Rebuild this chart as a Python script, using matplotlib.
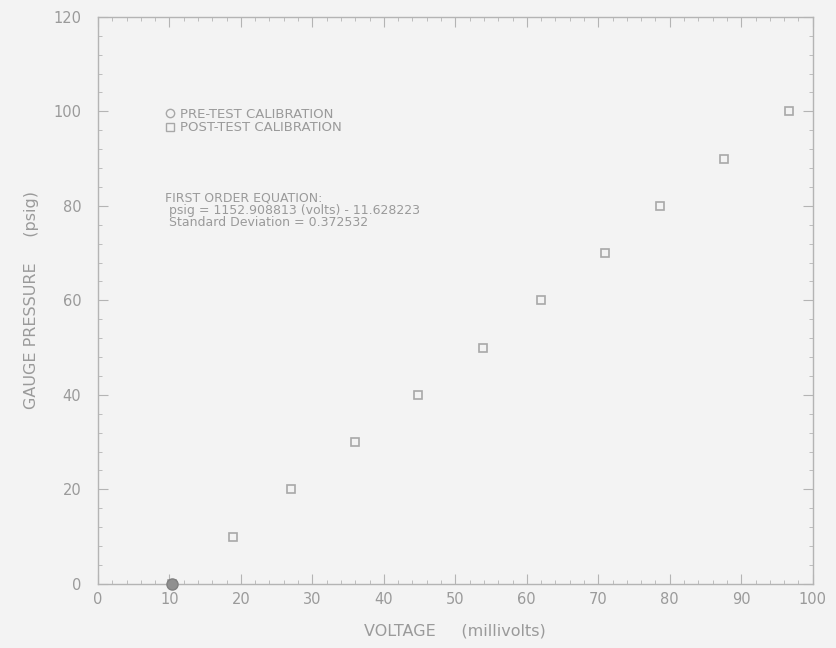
#!/usr/bin/env python3
# coding: utf-8

import matplotlib
matplotlib.use('Agg')
import matplotlib.pyplot as plt
from matplotlib.ticker import MultipleLocator
from matplotlib.lines import Line2D

# calibration points
post_mv = [10.3, 18.9, 27.0, 35.9, 44.8, 53.9, 62.0, 70.9, 78.7, 87.6, 96.7]
post_psig = [0, 10, 20, 30, 40, 50, 60, 70, 80, 90, 100]
pre_mv = [10.3]
pre_psig = [0]

x_ticks = [0, 10, 20, 30, 40, 50, 60, 70, 80, 90, 100]
y_ticks = [0, 20, 40, 60, 80, 100, 120]

eq_lines = ["FIRST ORDER EQUATION:",
            " psig = 1152.908813 (volts) - 11.628223",
            " Standard Deviation = 0.372532"]

BG = '#f3f3f3'
TXT = '#9a9a9a'
LN = '#b4b4b4'

fig = plt.figure(figsize=(8.37, 6.48), dpi=100, facecolor=BG)
ax = fig.add_axes([0.117, 0.099, 0.854, 0.875], facecolor=BG)

ax.plot(post_mv, post_psig, linestyle='none', marker='s', markersize=6,
        markerfacecolor='none', markeredgecolor='#a8a8a8', markeredgewidth=1.2)
ax.plot(pre_mv, pre_psig, linestyle='none', marker='o', markersize=8,
        markerfacecolor='#909090', markeredgecolor='#808080', clip_on=False, zorder=5)

ax.set_xlim(0, 100)
ax.set_ylim(0, 120)
ax.set_xticks(x_ticks)
ax.set_yticks(y_ticks)
ax.xaxis.set_minor_locator(MultipleLocator(2))
ax.yaxis.set_minor_locator(MultipleLocator(4))
ax.tick_params(which='both', direction='in', top=True, right=True, colors=LN,
               labelcolor=TXT, labelsize=10.5)
ax.tick_params(which='major', length=7, width=0.8)
ax.tick_params(which='minor', length=3, width=0.6)
ax.tick_params(axis='y', pad=12)
ax.tick_params(axis='x', pad=6)
for s in ax.spines.values():
    s.set_color(LN)
    s.set_linewidth(1.0)

ax.set_xlabel('VOLTAGE     (millivolts)', color=TXT, fontsize=11.5, labelpad=12)
ax.set_ylabel('GAUGE PRESSURE     (psig)', color=TXT, fontsize=11.5, labelpad=10)

handles = [Line2D([], [], linestyle='none', marker='o', markersize=6,
                  markerfacecolor='none', markeredgecolor='#a8a8a8'),
           Line2D([], [], linestyle='none', marker='s', markersize=6,
                  markerfacecolor='none', markeredgecolor='#a8a8a8')]
leg = ax.legend(handles, ['PRE-TEST CALIBRATION', 'POST-TEST CALIBRATION'],
                loc='upper left', bbox_to_anchor=(0.095, 0.84), frameon=False,
                fontsize=9.5, handlelength=0.6, handletextpad=0.5,
                labelspacing=0.05, borderpad=0, borderaxespad=0)
for t in leg.get_texts():
    t.set_color(TXT)

ax.text(0.094, 0.692, '\n'.join(eq_lines), transform=ax.transAxes,
        fontsize=9, color=TXT, va='top', ha='left', linespacing=0.95)

fig.savefig('out.png', dpi=100, facecolor=BG)
